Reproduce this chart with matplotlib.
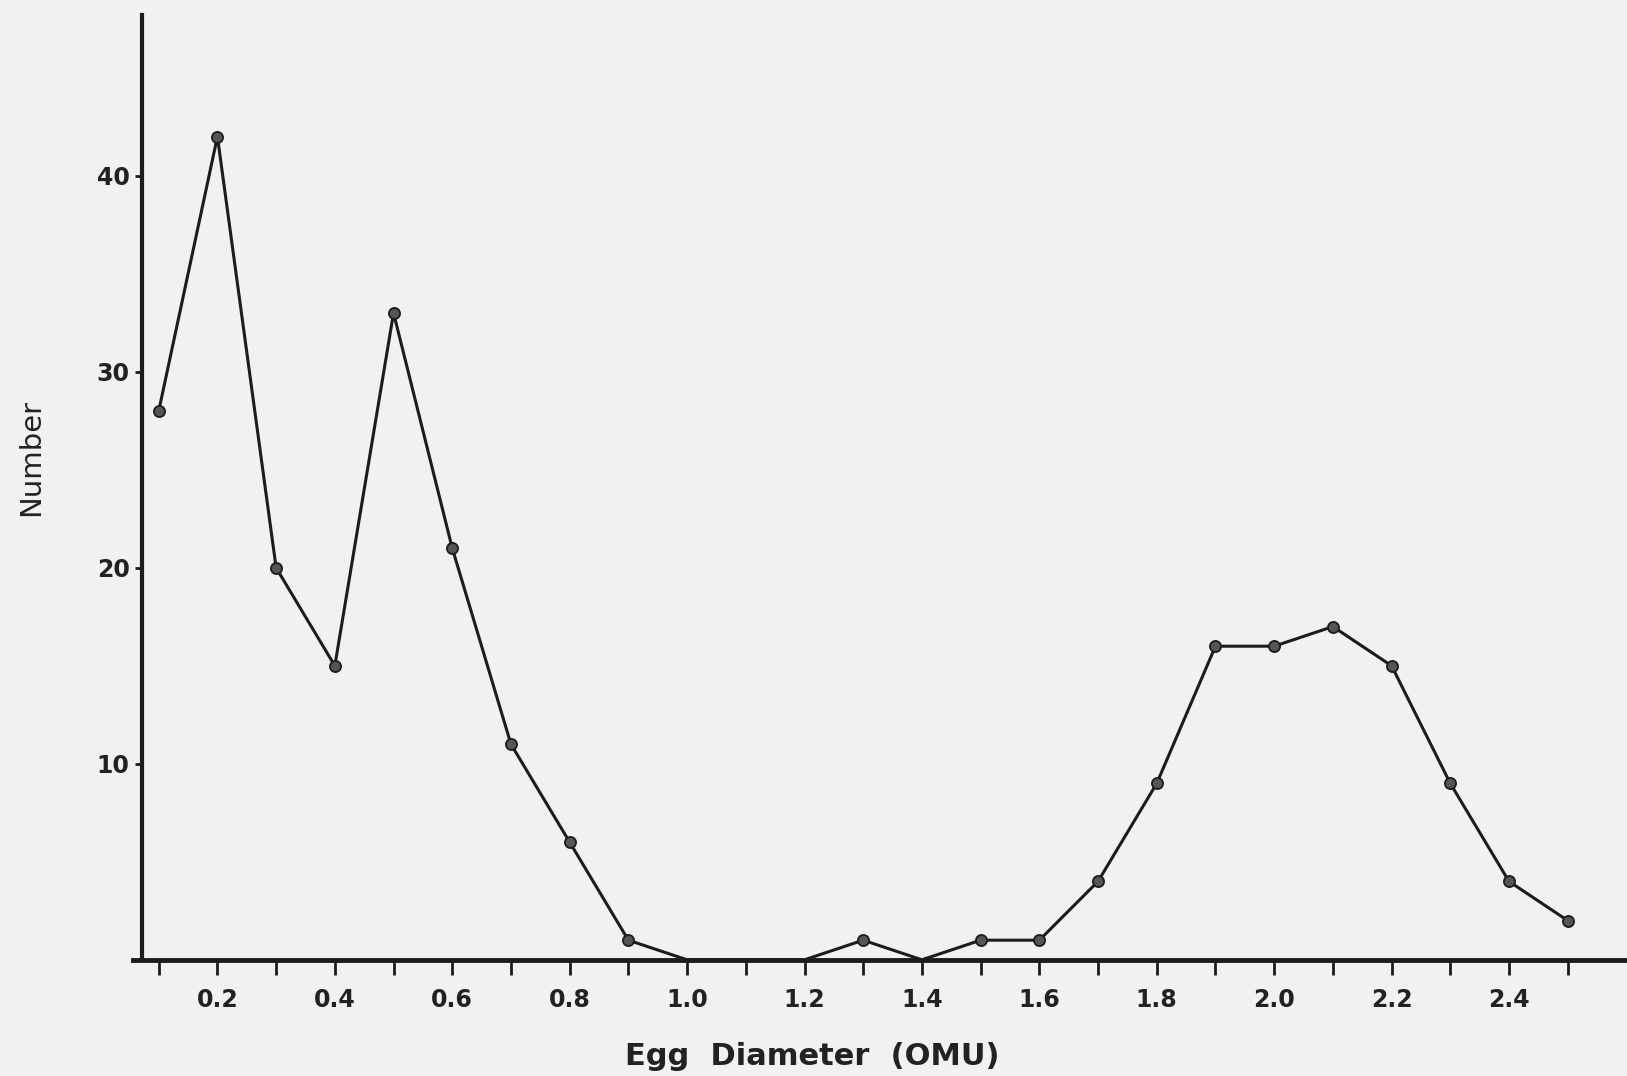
import numpy as np
import matplotlib
matplotlib.use("Agg")
import matplotlib.pyplot as plt

# egg diameter classes (OMU) and counts
diameter = [0.1, 0.2, 0.3, 0.4, 0.5, 0.6, 0.7, 0.8, 0.9, 1.0, 1.1, 1.2, 1.3,
            1.4, 1.5, 1.6, 1.7, 1.8, 1.9, 2.0, 2.1, 2.2, 2.3, 2.4, 2.5]
number = [28, 42, 20, 15, 33, 21, 11, 6, 1, 0, 0, 0, 1,
          0, 1, 1, 4, 9, 16, 16, 17, 15, 9, 4, 2]

x_ticks = [0.1, 0.2, 0.3, 0.4, 0.5, 0.6, 0.7, 0.8, 0.9, 1.0, 1.1, 1.2, 1.3,
           1.4, 1.5, 1.6, 1.7, 1.8, 1.9, 2.0, 2.1, 2.2, 2.3, 2.4, 2.5]
x_labels = ["", "0.2", "", "0.4", "", "0.6", "", "0.8", "", "1.0", "", "1.2", "",
            "1.4", "", "1.6", "", "1.8", "", "2.0", "", "2.2", "", "2.4", ""]
y_ticks = [10, 20, 30, 40]
y_labels = ["10", "20", "30", "40"]

paper = "#f1f1ef"
ink = "#1c1c1c"

fig = plt.figure(figsize=(16.27, 10.76), dpi=100, facecolor=paper)
ax = fig.add_axes([0.0816, 0.108, 0.9184, 0.878], facecolor=paper)

x = np.array(diameter)
y = np.array(number)
ax.plot(x, y, '-', color=ink, lw=2.2, zorder=3, clip_on=False)
nz = y > 0
ax.plot(x[nz], y[nz], 'o', ms=8, mfc="#555555", mec=ink, mew=1.3, zorder=4, clip_on=False)

ax.set_xlim(0.0558, 2.601)
ax.set_ylim(0, 48.2)

for s in ["top", "right"]:
    ax.spines[s].set_visible(False)
ax.spines["left"].set_position(("data", 0.0717))
ax.spines["left"].set_linewidth(3.0)
ax.spines["bottom"].set_linewidth(3.5)
ax.spines["left"].set_color(ink)
ax.spines["bottom"].set_color(ink)

ax.set_xticks(x_ticks)
ax.set_xticklabels(x_labels, fontsize=17, fontweight="bold", color="#222222")
ax.set_yticks(y_ticks)
ax.set_yticklabels(y_labels, fontsize=17, fontweight="bold", color="#222222")
ax.tick_params(axis="x", direction="out", length=11, width=2, color=ink, pad=9)
ax.tick_params(axis="y", direction="out", length=5, width=2, color=ink, pad=4)

ax.set_xlabel("Egg  Diameter  (OMU)", fontsize=22, fontweight="bold", color="#222222",
              labelpad=22, x=0.455)
fig.text(0.019, 0.575, "Number", rotation=90, fontsize=21, color="#222222",
         ha="center", va="center")

fig.savefig("out.png", dpi=100, facecolor=paper)
